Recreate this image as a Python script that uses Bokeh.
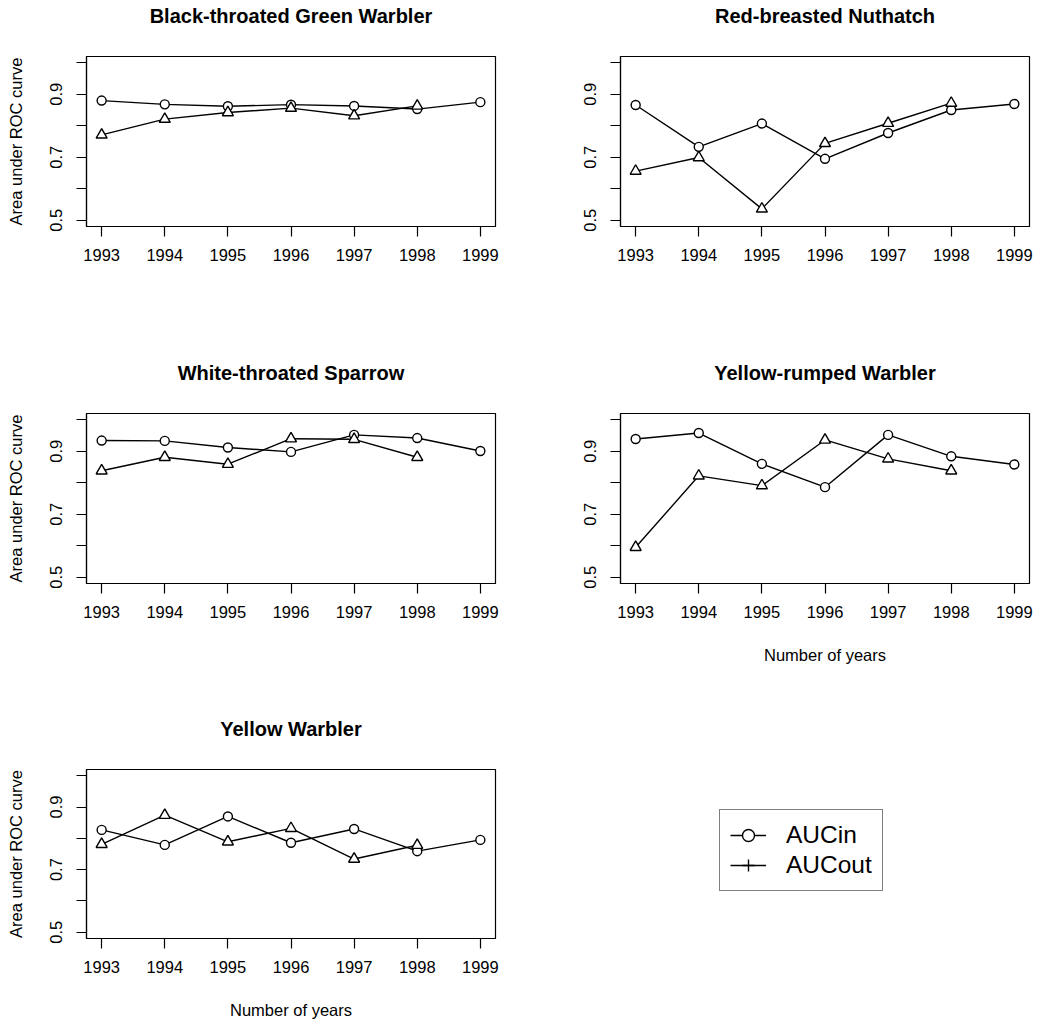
from bokeh.plotting import figure
from bokeh.models import Range1d, FixedTicker, Legend, LegendItem, ColumnDataSource, Title
from bokeh.layouts import column, row
from bokeh.embed import file_html
from bokeh.resources import INLINE

FONT = "Liberation Sans"

years = [1993, 1994, 1995, 1996, 1997, 1998, 1999]
years_out = [1993, 1994, 1995, 1996, 1997, 1998]
y_ticks = [0.5, 0.6, 0.7, 0.8, 0.9, 1.0]
y_tick_labels = {0.5: "0.5", 0.6: "", 0.7: "0.7", 0.8: "", 0.9: "0.9", 1.0: ""}

titles = ["Black-throated Green Warbler", "Red-breasted Nuthatch",
          "White-throated Sparrow", "Yellow-rumped Warbler", "Yellow Warbler"]

bgw_in = [0.880, 0.868, 0.862, 0.867, 0.863, 0.853, 0.875]
bgw_out = [0.771, 0.821, 0.842, 0.856, 0.832, 0.863]
rbn_in = [0.866, 0.733, 0.807, 0.695, 0.777, 0.850, 0.869]
rbn_out = [0.656, 0.699, 0.536, 0.744, 0.808, 0.872]
wts_in = [0.934, 0.933, 0.912, 0.898, 0.952, 0.942, 0.901]
wts_out = [0.838, 0.881, 0.859, 0.940, 0.938, 0.881]
yrw_in = [0.939, 0.958, 0.860, 0.786, 0.952, 0.884, 0.858]
yrw_out = [0.595, 0.822, 0.791, 0.936, 0.876, 0.838]
yw_in = [0.827, 0.779, 0.870, 0.786, 0.830, 0.759, 0.795]
yw_out = [0.781, 0.874, 0.789, 0.832, 0.734, 0.778]

legend_labels = ["AUCin", "AUCout"]

LW = 1.4
FRAME_W, FRAME_H = 409, 170


def make_panel(title, vin, vout, width, height, bl, bt, ylab, xlab):
    br = width - bl - FRAME_W
    bb = height - bt - FRAME_H
    p = figure(width=width, height=height, output_backend="svg", toolbar_location=None,
               x_range=Range1d(1992.76, 1999.24), y_range=Range1d(0.48, 1.02),
               min_border_left=bl, min_border_right=br, min_border_top=bt, min_border_bottom=bb)
    # spacer between frame and title (inner), then the real title (outer)
    p.add_layout(Title(text=" ", text_font=FONT, text_font_size="20px", standoff=6,
                       vertical_align="bottom"), "above")
    p.add_layout(Title(text=title, text_font=FONT, text_font_size="20px",
                       text_font_style="bold", text_color="black", align="center",
                       vertical_align="bottom", standoff=0), "above")
    p.outline_line_color = "black"
    p.outline_line_width = 1.2
    p.background_fill_color = "white"
    p.border_fill_color = "white"
    p.xgrid.visible = False
    p.ygrid.visible = False

    p.xaxis.ticker = FixedTicker(ticks=years)
    p.xaxis.major_label_overrides = {y: str(y) for y in years}
    p.yaxis.ticker = FixedTicker(ticks=y_ticks)
    p.yaxis.major_label_overrides = y_tick_labels
    p.yaxis.major_label_orientation = "vertical"
    for ax in (p.xaxis, p.yaxis):
        ax.major_tick_out = 10
        ax.major_tick_in = 0
        ax.major_tick_line_width = 1.2
        ax.minor_tick_line_color = None
        ax.axis_line_width = 1.2
        ax.major_label_text_font = FONT
        ax.major_label_text_font_size = "16.5px"
        ax.major_label_text_color = "black"
        ax.axis_label_text_font = FONT
        ax.axis_label_text_font_size = "16.5px"
        ax.axis_label_text_font_style = "normal"
        ax.axis_label_text_color = "black"
    p.xaxis.major_label_standoff = 12
    p.yaxis.major_label_standoff = 14
    if ylab:
        p.yaxis.axis_label = "Area under ROC curve"
        p.yaxis.axis_label_standoff = 23
    if xlab:
        p.xaxis.axis_label = "Number of years"
        p.xaxis.axis_label_standoff = 25

    p.line(years, vin, line_color="black", line_width=LW)
    p.line(years_out, vout, line_color="black", line_width=LW)
    p.scatter(years, vin, marker="circle", size=9, line_color="black",
              line_width=LW, fill_color="white")
    p.scatter(years_out, vout, marker="triangle", size=11, line_color="black",
              line_width=LW, fill_color="white")
    return p


LEFT_W, RIGHT_W = 520, 518
rows_h = [357, 357, 307]
rows_bt = [56, 56, 55]
LEFT_BL, RIGHT_BL = 86, 100

p1 = make_panel(titles[0], bgw_in, bgw_out, LEFT_W, rows_h[0], LEFT_BL, rows_bt[0], True, False)
p2 = make_panel(titles[1], rbn_in, rbn_out, RIGHT_W, rows_h[0], RIGHT_BL, rows_bt[0], False, False)
p3 = make_panel(titles[2], wts_in, wts_out, LEFT_W, rows_h[1], LEFT_BL, rows_bt[1], True, False)
p4 = make_panel(titles[3], yrw_in, yrw_out, RIGHT_W, rows_h[1], RIGHT_BL, rows_bt[1], False, True)
p5 = make_panel(titles[4], yw_in, yw_out, LEFT_W, rows_h[2], LEFT_BL, rows_bt[2], True, True)

# legend panel
p6 = figure(width=RIGHT_W, height=rows_h[2], output_backend="svg", toolbar_location=None,
            x_range=Range1d(0, 1), y_range=Range1d(0, 1),
            x_axis_location=None, y_axis_location=None,
            min_border_left=0, min_border_right=0, min_border_top=0, min_border_bottom=0)
p6.outline_line_color = None
p6.xgrid.visible = False
p6.ygrid.visible = False
p6.background_fill_color = "white"
p6.border_fill_color = "white"
hidden = ColumnDataSource(data=dict(x=[float("nan")], y=[float("nan")]))
l_in = p6.line("x", "y", source=hidden, line_color="black", line_width=LW)
s_in = p6.scatter("x", "y", source=hidden, marker="circle", line_color="black",
                  line_width=LW, fill_color="white")
l_out = p6.line("x", "y", source=hidden, line_color="black", line_width=LW)
s_out = p6.scatter("x", "y", source=hidden, marker="cross", line_color="black",
                   line_width=LW)
legend = Legend(items=[LegendItem(label=legend_labels[0], renderers=[l_in, s_in], index=0),
                       LegendItem(label=legend_labels[1], renderers=[l_out, s_out], index=0)],
                location=(199, 47), orientation="vertical",
                glyph_width=36, glyph_height=30, label_height=26, spacing=0,
                padding=10, label_standoff=20, margin=0,
                label_text_font=FONT, label_text_font_size="24.5px",
                label_text_color="black", label_text_baseline="middle",
                border_line_color="black", border_line_width=1.2,
                background_fill_color="white", background_fill_alpha=1.0)
p6.add_layout(legend)

layout = column(row(p1, p2), row(p3, p4), row(p5, p6))

open("out.html", "w").write(file_html(layout, INLINE))
